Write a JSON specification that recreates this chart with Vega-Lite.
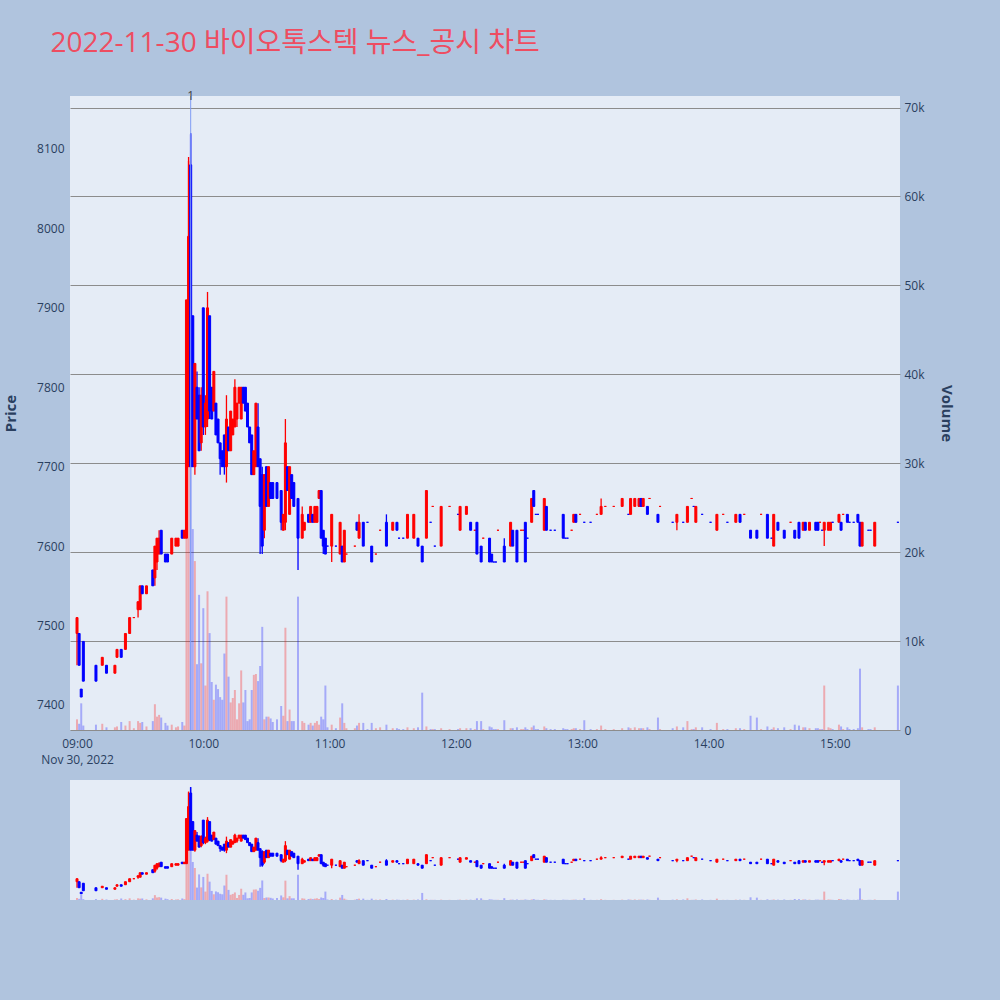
{
"$schema": "https://vega.github.io/schema/vega-lite/v6.json",
"background": "#B0C4DE",
"padding": {"left": 3, "top": 30, "right": 47, "bottom": 100},
"title": {"text": "2022-11-30 바이오톡스텍 뉴스_공시 차트", "anchor": "start", "fontSize": 28, "fontWeight": "normal", "color": "#EE4D61", "font": "'Open Sans', 'Noto Sans CJK KR', sans-serif", "offset": 32, "dx": 47},
"config": {"view": {"fill": "#E5ECF6", "stroke": null}, "font": "Open Sans"},
"spacing": 50,
"bounds": "flush",
"datasets": {
"news": [{"t": "2022-11-30T09:54", "label": "1"}],
"k": [
{"t":"2022-11-30T09:00","o":7490,"h":7510,"l":7450,"c":7510,"v":1200,"d":"u"},
{"t":"2022-11-30T09:01","o":7490,"h":7490,"l":7450,"c":7450,"v":700,"d":"d"},
{"t":"2022-11-30T09:02","o":7420,"h":7420,"l":7410,"c":7410,"v":3000,"d":"d"},
{"t":"2022-11-30T09:03","o":7480,"h":7480,"l":7430,"c":7430,"v":500,"d":"d"},
{"t":"2022-11-30T09:09","o":7450,"h":7450,"l":7430,"c":7430,"v":600,"d":"d"},
{"t":"2022-11-30T09:12","o":7450,"h":7460,"l":7450,"c":7460,"v":700,"d":"u"},
{"t":"2022-11-30T09:14","o":7450,"h":7450,"l":7440,"c":7440,"v":300,"d":"d"},
{"t":"2022-11-30T09:18","o":7440,"h":7450,"l":7440,"c":7450,"v":300,"d":"u"},
{"t":"2022-11-30T09:19","o":7460,"h":7470,"l":7460,"c":7470,"v":400,"d":"u"},
{"t":"2022-11-30T09:21","o":7470,"h":7470,"l":7460,"c":7460,"v":900,"d":"d"},
{"t":"2022-11-30T09:23","o":7470,"h":7490,"l":7470,"c":7490,"v":500,"d":"u"},
{"t":"2022-11-30T09:25","o":7490,"h":7510,"l":7490,"c":7510,"v":1000,"d":"u"},
{"t":"2022-11-30T09:27","o":7510,"h":7510,"l":7510,"c":7510,"v":200,"d":"u"},
{"t":"2022-11-30T09:29","o":7520,"h":7530,"l":7510,"c":7530,"v":1000,"d":"u"},
{"t":"2022-11-30T09:30","o":7520,"h":7550,"l":7520,"c":7550,"v":800,"d":"u"},
{"t":"2022-11-30T09:31","o":7550,"h":7550,"l":7540,"c":7540,"v":900,"d":"d"},
{"t":"2022-11-30T09:33","o":7540,"h":7550,"l":7540,"c":7550,"v":400,"d":"u"},
{"t":"2022-11-30T09:36","o":7570,"h":7570,"l":7550,"c":7550,"v":1000,"d":"d"},
{"t":"2022-11-30T09:37","o":7560,"h":7600,"l":7550,"c":7600,"v":2900,"d":"u"},
{"t":"2022-11-30T09:38","o":7580,"h":7610,"l":7570,"c":7610,"v":1500,"d":"u"},
{"t":"2022-11-30T09:39","o":7590,"h":7620,"l":7590,"c":7610,"v":1700,"d":"u"},
{"t":"2022-11-30T09:40","o":7620,"h":7620,"l":7590,"c":7590,"v":1400,"d":"d"},
{"t":"2022-11-30T09:42","o":7590,"h":7590,"l":7580,"c":7580,"v":800,"d":"d"},
{"t":"2022-11-30T09:43","o":7590,"h":7590,"l":7580,"c":7580,"v":500,"d":"d"},
{"t":"2022-11-30T09:45","o":7590,"h":7610,"l":7590,"c":7610,"v":600,"d":"u"},
{"t":"2022-11-30T09:47","o":7600,"h":7610,"l":7600,"c":7610,"v":300,"d":"u"},
{"t":"2022-11-30T09:48","o":7600,"h":7610,"l":7600,"c":7610,"v":400,"d":"u"},
{"t":"2022-11-30T09:50","o":7620,"h":7620,"l":7610,"c":7610,"v":900,"d":"d"},
{"t":"2022-11-30T09:51","o":7610,"h":7620,"l":7610,"c":7620,"v":500,"d":"u"},
{"t":"2022-11-30T09:52","o":7610,"h":7910,"l":7610,"c":7910,"v":28600,"d":"u"},
{"t":"2022-11-30T09:53","o":7700,"h":8090,"l":7700,"c":7990,"v":64000,"d":"u"},
{"t":"2022-11-30T09:54","o":8080,"h":8120,"l":7700,"c":7700,"v":67000,"d":"d"},
{"t":"2022-11-30T09:55","o":7890,"h":7890,"l":7700,"c":7700,"v":22600,"d":"d"},
{"t":"2022-11-30T09:56","o":7700,"h":7830,"l":7690,"c":7830,"v":19000,"d":"u"},
{"t":"2022-11-30T09:57","o":7800,"h":7820,"l":7760,"c":7760,"v":7400,"d":"d"},
{"t":"2022-11-30T09:58","o":7790,"h":7800,"l":7720,"c":7720,"v":15200,"d":"d"},
{"t":"2022-11-30T09:59","o":7730,"h":7800,"l":7720,"c":7790,"v":7500,"d":"u"},
{"t":"2022-11-30T10:00","o":7900,"h":7900,"l":7740,"c":7750,"v":13700,"d":"d"},
{"t":"2022-11-30T10:01","o":7750,"h":7790,"l":7740,"c":7780,"v":5000,"d":"u"},
{"t":"2022-11-30T10:02","o":7760,"h":7920,"l":7750,"c":7900,"v":15600,"d":"u"},
{"t":"2022-11-30T10:03","o":7890,"h":7890,"l":7760,"c":7770,"v":10900,"d":"d"},
{"t":"2022-11-30T10:04","o":7800,"h":7800,"l":7760,"c":7760,"v":5400,"d":"d"},
{"t":"2022-11-30T10:05","o":7770,"h":7820,"l":7770,"c":7820,"v":3400,"d":"u"},
{"t":"2022-11-30T10:06","o":7780,"h":7780,"l":7740,"c":7740,"v":5100,"d":"d"},
{"t":"2022-11-30T10:07","o":7760,"h":7760,"l":7730,"c":7730,"v":4600,"d":"d"},
{"t":"2022-11-30T10:08","o":7730,"h":7730,"l":7690,"c":7710,"v":3700,"d":"d"},
{"t":"2022-11-30T10:09","o":7720,"h":7720,"l":7700,"c":7700,"v":3400,"d":"d"},
{"t":"2022-11-30T10:10","o":7740,"h":7740,"l":7690,"c":7700,"v":8600,"d":"d"},
{"t":"2022-11-30T10:11","o":7700,"h":7790,"l":7680,"c":7760,"v":15000,"d":"u"},
{"t":"2022-11-30T10:12","o":7750,"h":7750,"l":7720,"c":7720,"v":6000,"d":"d"},
{"t":"2022-11-30T10:13","o":7720,"h":7770,"l":7720,"c":7770,"v":3100,"d":"u"},
{"t":"2022-11-30T10:14","o":7740,"h":7760,"l":7740,"c":7760,"v":3600,"d":"u"},
{"t":"2022-11-30T10:15","o":7750,"h":7810,"l":7750,"c":7800,"v":4500,"d":"u"},
{"t":"2022-11-30T10:16","o":7760,"h":7780,"l":7750,"c":7780,"v":1200,"d":"u"},
{"t":"2022-11-30T10:17","o":7780,"h":7800,"l":7780,"c":7800,"v":3000,"d":"u"},
{"t":"2022-11-30T10:18","o":7760,"h":7800,"l":7760,"c":7800,"v":6700,"d":"u"},
{"t":"2022-11-30T10:19","o":7800,"h":7800,"l":7780,"c":7780,"v":3100,"d":"d"},
{"t":"2022-11-30T10:20","o":7800,"h":7800,"l":7770,"c":7770,"v":4500,"d":"d"},
{"t":"2022-11-30T10:21","o":7780,"h":7780,"l":7750,"c":7750,"v":1000,"d":"d"},
{"t":"2022-11-30T10:22","o":7750,"h":7750,"l":7730,"c":7730,"v":1200,"d":"d"},
{"t":"2022-11-30T10:23","o":7740,"h":7740,"l":7690,"c":7690,"v":4500,"d":"d"},
{"t":"2022-11-30T10:24","o":7690,"h":7720,"l":7690,"c":7720,"v":6200,"d":"u"},
{"t":"2022-11-30T10:25","o":7700,"h":7780,"l":7700,"c":7780,"v":6300,"d":"u"},
{"t":"2022-11-30T10:26","o":7750,"h":7780,"l":7700,"c":7700,"v":5500,"d":"d"},
{"t":"2022-11-30T10:27","o":7710,"h":7710,"l":7590,"c":7650,"v":7200,"d":"d"},
{"t":"2022-11-30T10:28","o":7690,"h":7700,"l":7590,"c":7600,"v":11600,"d":"d"},
{"t":"2022-11-30T10:29","o":7620,"h":7690,"l":7610,"c":7690,"v":1200,"d":"u"},
{"t":"2022-11-30T10:30","o":7700,"h":7700,"l":7650,"c":7650,"v":1500,"d":"d"},
{"t":"2022-11-30T10:31","o":7650,"h":7700,"l":7650,"c":7700,"v":1500,"d":"u"},
{"t":"2022-11-30T10:32","o":7680,"h":7680,"l":7660,"c":7660,"v":1300,"d":"d"},
{"t":"2022-11-30T10:33","o":7680,"h":7680,"l":7660,"c":7660,"v":900,"d":"d"},
{"t":"2022-11-30T10:35","o":7680,"h":7680,"l":7660,"c":7660,"v":1200,"d":"d"},
{"t":"2022-11-30T10:37","o":7670,"h":7670,"l":7620,"c":7630,"v":2700,"d":"d"},
{"t":"2022-11-30T10:38","o":7620,"h":7640,"l":7620,"c":7640,"v":1600,"d":"u"},
{"t":"2022-11-30T10:39","o":7630,"h":7760,"l":7620,"c":7730,"v":11500,"d":"u"},
{"t":"2022-11-30T10:40","o":7700,"h":7700,"l":7670,"c":7670,"v":1000,"d":"d"},
{"t":"2022-11-30T10:41","o":7640,"h":7700,"l":7640,"c":7700,"v":2300,"d":"u"},
{"t":"2022-11-30T10:42","o":7690,"h":7690,"l":7660,"c":7660,"v":1000,"d":"d"},
{"t":"2022-11-30T10:43","o":7680,"h":7680,"l":7650,"c":7650,"v":1000,"d":"d"},
{"t":"2022-11-30T10:45","o":7660,"h":7660,"l":7570,"c":7610,"v":15000,"d":"d"},
{"t":"2022-11-30T10:47","o":7610,"h":7650,"l":7610,"c":7640,"v":1000,"d":"u"},
{"t":"2022-11-30T10:48","o":7620,"h":7630,"l":7620,"c":7630,"v":800,"d":"u"},
{"t":"2022-11-30T10:50","o":7640,"h":7640,"l":7630,"c":7630,"v":600,"d":"d"},
{"t":"2022-11-30T10:51","o":7630,"h":7650,"l":7630,"c":7650,"v":800,"d":"u"},
{"t":"2022-11-30T10:52","o":7640,"h":7640,"l":7630,"c":7630,"v":500,"d":"d"},
{"t":"2022-11-30T10:53","o":7630,"h":7650,"l":7630,"c":7650,"v":800,"d":"u"},
{"t":"2022-11-30T10:54","o":7630,"h":7650,"l":7630,"c":7650,"v":1000,"d":"u"},
{"t":"2022-11-30T10:55","o":7660,"h":7670,"l":7660,"c":7670,"v":600,"d":"u"},
{"t":"2022-11-30T10:56","o":7670,"h":7670,"l":7610,"c":7610,"v":1500,"d":"d"},
{"t":"2022-11-30T10:57","o":7620,"h":7620,"l":7590,"c":7600,"v":1200,"d":"d"},
{"t":"2022-11-30T10:58","o":7610,"h":7610,"l":7590,"c":7590,"v":5000,"d":"d"},
{"t":"2022-11-30T10:59","o":7600,"h":7600,"l":7600,"c":7600,"v":300,"d":"d"},
{"t":"2022-11-30T11:01","o":7600,"h":7640,"l":7580,"c":7640,"v":600,"d":"u"},
{"t":"2022-11-30T11:03","o":7600,"h":7600,"l":7600,"c":7600,"v":200,"d":"d"},
{"t":"2022-11-30T11:05","o":7590,"h":7630,"l":7590,"c":7630,"v":1400,"d":"u"},
{"t":"2022-11-30T11:06","o":7600,"h":7600,"l":7580,"c":7580,"v":3000,"d":"d"},
{"t":"2022-11-30T11:07","o":7580,"h":7620,"l":7580,"c":7620,"v":800,"d":"u"},
{"t":"2022-11-30T11:08","o":7590,"h":7590,"l":7590,"c":7590,"v":200,"d":"u"},
{"t":"2022-11-30T11:12","o":7600,"h":7600,"l":7600,"c":7600,"v":200,"d":"u"},
{"t":"2022-11-30T11:13","o":7630,"h":7630,"l":7620,"c":7620,"v":500,"d":"d"},
{"t":"2022-11-30T11:14","o":7610,"h":7640,"l":7610,"c":7630,"v":800,"d":"u"},
{"t":"2022-11-30T11:16","o":7630,"h":7630,"l":7600,"c":7600,"v":800,"d":"d"},
{"t":"2022-11-30T11:18","o":7630,"h":7630,"l":7630,"c":7630,"v":100,"d":"d"},
{"t":"2022-11-30T11:20","o":7600,"h":7600,"l":7580,"c":7580,"v":800,"d":"d"},
{"t":"2022-11-30T11:22","o":7590,"h":7590,"l":7590,"c":7590,"v":200,"d":"u"},
{"t":"2022-11-30T11:24","o":7620,"h":7620,"l":7620,"c":7620,"v":300,"d":"u"},
{"t":"2022-11-30T11:27","o":7630,"h":7640,"l":7600,"c":7600,"v":600,"d":"d"},
{"t":"2022-11-30T11:30","o":7620,"h":7630,"l":7620,"c":7630,"v":200,"d":"u"},
{"t":"2022-11-30T11:32","o":7630,"h":7630,"l":7620,"c":7620,"v":200,"d":"d"},
{"t":"2022-11-30T11:33","o":7610,"h":7610,"l":7610,"c":7610,"v":100,"d":"d"},
{"t":"2022-11-30T11:35","o":7610,"h":7610,"l":7610,"c":7610,"v":100,"d":"d"},
{"t":"2022-11-30T11:37","o":7610,"h":7640,"l":7610,"c":7640,"v":300,"d":"u"},
{"t":"2022-11-30T11:40","o":7610,"h":7640,"l":7610,"c":7640,"v":200,"d":"u"},
{"t":"2022-11-30T11:42","o":7610,"h":7610,"l":7600,"c":7600,"v":300,"d":"d"},
{"t":"2022-11-30T11:44","o":7600,"h":7600,"l":7580,"c":7580,"v":4200,"d":"d"},
{"t":"2022-11-30T11:46","o":7610,"h":7670,"l":7610,"c":7670,"v":400,"d":"u"},
{"t":"2022-11-30T11:48","o":7630,"h":7630,"l":7630,"c":7630,"v":100,"d":"d"},
{"t":"2022-11-30T11:49","o":7650,"h":7650,"l":7650,"c":7650,"v":100,"d":"u"},
{"t":"2022-11-30T11:50","o":7600,"h":7600,"l":7600,"c":7600,"v":100,"d":"d"},
{"t":"2022-11-30T11:53","o":7600,"h":7650,"l":7600,"c":7650,"v":200,"d":"u"},
{"t":"2022-11-30T11:57","o":7650,"h":7650,"l":7650,"c":7650,"v":100,"d":"u"},
{"t":"2022-11-30T12:01","o":7640,"h":7640,"l":7640,"c":7640,"v":100,"d":"d"},
{"t":"2022-11-30T12:02","o":7620,"h":7650,"l":7620,"c":7650,"v":200,"d":"u"},
{"t":"2022-11-30T12:05","o":7640,"h":7650,"l":7640,"c":7650,"v":200,"d":"u"},
{"t":"2022-11-30T12:07","o":7630,"h":7630,"l":7620,"c":7620,"v":200,"d":"d"},
{"t":"2022-11-30T12:09","o":7620,"h":7620,"l":7620,"c":7620,"v":100,"d":"u"},
{"t":"2022-11-30T12:10","o":7630,"h":7630,"l":7590,"c":7590,"v":1000,"d":"d"},
{"t":"2022-11-30T12:12","o":7600,"h":7600,"l":7580,"c":7580,"v":1000,"d":"d"},
{"t":"2022-11-30T12:13","o":7610,"h":7610,"l":7610,"c":7610,"v":100,"d":"u"},
{"t":"2022-11-30T12:16","o":7610,"h":7610,"l":7580,"c":7580,"v":400,"d":"d"},
{"t":"2022-11-30T12:17","o":7590,"h":7590,"l":7580,"c":7580,"v":300,"d":"d"},
{"t":"2022-11-30T12:18","o":7580,"h":7580,"l":7580,"c":7580,"v":100,"d":"d"},
{"t":"2022-11-30T12:19","o":7580,"h":7580,"l":7580,"c":7580,"v":100,"d":"d"},
{"t":"2022-11-30T12:20","o":7620,"h":7620,"l":7620,"c":7620,"v":100,"d":"u"},
{"t":"2022-11-30T12:23","o":7600,"h":7610,"l":7580,"c":7580,"v":1100,"d":"d"},
{"t":"2022-11-30T12:26","o":7600,"h":7630,"l":7600,"c":7630,"v":200,"d":"u"},
{"t":"2022-11-30T12:27","o":7620,"h":7620,"l":7600,"c":7600,"v":200,"d":"d"},
{"t":"2022-11-30T12:29","o":7620,"h":7620,"l":7580,"c":7580,"v":300,"d":"d"},
{"t":"2022-11-30T12:31","o":7620,"h":7620,"l":7620,"c":7620,"v":100,"d":"u"},
{"t":"2022-11-30T12:32","o":7620,"h":7620,"l":7620,"c":7620,"v":100,"d":"u"},
{"t":"2022-11-30T12:33","o":7630,"h":7630,"l":7580,"c":7580,"v":300,"d":"d"},
{"t":"2022-11-30T12:34","o":7610,"h":7610,"l":7610,"c":7610,"v":100,"d":"d"},
{"t":"2022-11-30T12:36","o":7630,"h":7660,"l":7630,"c":7660,"v":300,"d":"u"},
{"t":"2022-11-30T12:37","o":7670,"h":7670,"l":7650,"c":7650,"v":500,"d":"d"},
{"t":"2022-11-30T12:38","o":7640,"h":7640,"l":7640,"c":7640,"v":100,"d":"d"},
{"t":"2022-11-30T12:39","o":7640,"h":7640,"l":7640,"c":7640,"v":100,"d":"d"},
{"t":"2022-11-30T12:42","o":7620,"h":7660,"l":7620,"c":7660,"v":400,"d":"u"},
{"t":"2022-11-30T12:43","o":7650,"h":7650,"l":7620,"c":7620,"v":200,"d":"d"},
{"t":"2022-11-30T12:45","o":7620,"h":7620,"l":7620,"c":7620,"v":100,"d":"d"},
{"t":"2022-11-30T12:47","o":7620,"h":7620,"l":7620,"c":7620,"v":100,"d":"d"},
{"t":"2022-11-30T12:51","o":7640,"h":7640,"l":7610,"c":7610,"v":200,"d":"d"},
{"t":"2022-11-30T12:52","o":7610,"h":7610,"l":7610,"c":7610,"v":100,"d":"d"},
{"t":"2022-11-30T12:53","o":7610,"h":7610,"l":7610,"c":7610,"v":100,"d":"d"},
{"t":"2022-11-30T12:55","o":7620,"h":7620,"l":7620,"c":7620,"v":100,"d":"u"},
{"t":"2022-11-30T12:56","o":7630,"h":7640,"l":7630,"c":7640,"v":200,"d":"u"},
{"t":"2022-11-30T12:57","o":7640,"h":7640,"l":7630,"c":7630,"v":200,"d":"d"},
{"t":"2022-11-30T12:59","o":7640,"h":7640,"l":7640,"c":7640,"v":100,"d":"u"},
{"t":"2022-11-30T13:01","o":7630,"h":7630,"l":7630,"c":7630,"v":1100,"d":"d"},
{"t":"2022-11-30T13:04","o":7630,"h":7630,"l":7630,"c":7630,"v":100,"d":"d"},
{"t":"2022-11-30T13:07","o":7640,"h":7640,"l":7640,"c":7640,"v":100,"d":"u"},
{"t":"2022-11-30T13:09","o":7640,"h":7660,"l":7640,"c":7650,"v":500,"d":"u"},
{"t":"2022-11-30T13:11","o":7650,"h":7650,"l":7650,"c":7650,"v":100,"d":"u"},
{"t":"2022-11-30T13:15","o":7650,"h":7650,"l":7650,"c":7650,"v":100,"d":"u"},
{"t":"2022-11-30T13:19","o":7650,"h":7660,"l":7650,"c":7660,"v":200,"d":"u"},
{"t":"2022-11-30T13:22","o":7640,"h":7640,"l":7640,"c":7640,"v":300,"d":"d"},
{"t":"2022-11-30T13:23","o":7640,"h":7660,"l":7640,"c":7660,"v":200,"d":"u"},
{"t":"2022-11-30T13:25","o":7650,"h":7660,"l":7650,"c":7660,"v":300,"d":"u"},
{"t":"2022-11-30T13:27","o":7650,"h":7660,"l":7650,"c":7660,"v":200,"d":"u"},
{"t":"2022-11-30T13:28","o":7660,"h":7660,"l":7650,"c":7650,"v":200,"d":"d"},
{"t":"2022-11-30T13:29","o":7650,"h":7660,"l":7650,"c":7660,"v":200,"d":"u"},
{"t":"2022-11-30T13:31","o":7650,"h":7650,"l":7640,"c":7640,"v":300,"d":"d"},
{"t":"2022-11-30T13:32","o":7660,"h":7660,"l":7660,"c":7660,"v":100,"d":"u"},
{"t":"2022-11-30T13:36","o":7640,"h":7640,"l":7630,"c":7630,"v":1400,"d":"d"},
{"t":"2022-11-30T13:37","o":7650,"h":7650,"l":7650,"c":7650,"v":100,"d":"u"},
{"t":"2022-11-30T13:43","o":7630,"h":7630,"l":7630,"c":7630,"v":200,"d":"d"},
{"t":"2022-11-30T13:45","o":7630,"h":7640,"l":7620,"c":7640,"v":400,"d":"u"},
{"t":"2022-11-30T13:48","o":7630,"h":7630,"l":7630,"c":7630,"v":300,"d":"d"},
{"t":"2022-11-30T13:50","o":7630,"h":7650,"l":7630,"c":7650,"v":1000,"d":"u"},
{"t":"2022-11-30T13:52","o":7660,"h":7660,"l":7660,"c":7660,"v":100,"d":"u"},
{"t":"2022-11-30T13:53","o":7650,"h":7650,"l":7650,"c":7650,"v":100,"d":"d"},
{"t":"2022-11-30T13:54","o":7630,"h":7650,"l":7630,"c":7650,"v":300,"d":"u"},
{"t":"2022-11-30T13:57","o":7640,"h":7640,"l":7640,"c":7640,"v":300,"d":"d"},
{"t":"2022-11-30T14:01","o":7630,"h":7630,"l":7630,"c":7630,"v":100,"d":"d"},
{"t":"2022-11-30T14:04","o":7620,"h":7640,"l":7620,"c":7640,"v":800,"d":"u"},
{"t":"2022-11-30T14:07","o":7640,"h":7640,"l":7640,"c":7640,"v":100,"d":"u"},
{"t":"2022-11-30T14:09","o":7630,"h":7630,"l":7630,"c":7630,"v":100,"d":"d"},
{"t":"2022-11-30T14:13","o":7630,"h":7640,"l":7630,"c":7640,"v":200,"d":"u"},
{"t":"2022-11-30T14:15","o":7640,"h":7640,"l":7630,"c":7630,"v":200,"d":"d"},
{"t":"2022-11-30T14:17","o":7640,"h":7640,"l":7640,"c":7640,"v":100,"d":"u"},
{"t":"2022-11-30T14:20","o":7620,"h":7620,"l":7610,"c":7610,"v":1600,"d":"d"},
{"t":"2022-11-30T14:23","o":7620,"h":7620,"l":7610,"c":7610,"v":1400,"d":"d"},
{"t":"2022-11-30T14:25","o":7640,"h":7640,"l":7640,"c":7640,"v":100,"d":"u"},
{"t":"2022-11-30T14:28","o":7640,"h":7640,"l":7610,"c":7610,"v":400,"d":"d"},
{"t":"2022-11-30T14:30","o":7610,"h":7610,"l":7610,"c":7610,"v":100,"d":"d"},
{"t":"2022-11-30T14:31","o":7600,"h":7640,"l":7600,"c":7640,"v":300,"d":"u"},
{"t":"2022-11-30T14:33","o":7630,"h":7630,"l":7620,"c":7620,"v":200,"d":"d"},
{"t":"2022-11-30T14:36","o":7620,"h":7620,"l":7610,"c":7610,"v":300,"d":"d"},
{"t":"2022-11-30T14:39","o":7630,"h":7630,"l":7630,"c":7630,"v":100,"d":"u"},
{"t":"2022-11-30T14:41","o":7620,"h":7620,"l":7610,"c":7610,"v":600,"d":"d"},
{"t":"2022-11-30T14:43","o":7630,"h":7630,"l":7610,"c":7610,"v":500,"d":"d"},
{"t":"2022-11-30T14:45","o":7620,"h":7630,"l":7620,"c":7630,"v":300,"d":"u"},
{"t":"2022-11-30T14:46","o":7630,"h":7630,"l":7620,"c":7620,"v":300,"d":"d"},
{"t":"2022-11-30T14:48","o":7620,"h":7630,"l":7620,"c":7630,"v":200,"d":"u"},
{"t":"2022-11-30T14:51","o":7630,"h":7630,"l":7620,"c":7620,"v":200,"d":"d"},
{"t":"2022-11-30T14:52","o":7630,"h":7630,"l":7620,"c":7620,"v":200,"d":"d"},
{"t":"2022-11-30T14:53","o":7630,"h":7630,"l":7630,"c":7630,"v":100,"d":"u"},
{"t":"2022-11-30T14:54","o":7620,"h":7620,"l":7620,"c":7620,"v":100,"d":"d"},
{"t":"2022-11-30T14:55","o":7620,"h":7630,"l":7600,"c":7630,"v":5000,"d":"u"},
{"t":"2022-11-30T14:57","o":7620,"h":7630,"l":7620,"c":7630,"v":300,"d":"u"},
{"t":"2022-11-30T14:58","o":7620,"h":7630,"l":7620,"c":7630,"v":200,"d":"u"},
{"t":"2022-11-30T14:59","o":7630,"h":7630,"l":7630,"c":7630,"v":100,"d":"d"},
{"t":"2022-11-30T15:02","o":7630,"h":7640,"l":7630,"c":7640,"v":600,"d":"u"},
{"t":"2022-11-30T15:03","o":7630,"h":7630,"l":7620,"c":7620,"v":400,"d":"d"},
{"t":"2022-11-30T15:04","o":7640,"h":7640,"l":7640,"c":7640,"v":100,"d":"u"},
{"t":"2022-11-30T15:06","o":7640,"h":7640,"l":7630,"c":7630,"v":300,"d":"d"},
{"t":"2022-11-30T15:07","o":7630,"h":7630,"l":7630,"c":7630,"v":100,"d":"d"},
{"t":"2022-11-30T15:09","o":7630,"h":7630,"l":7630,"c":7630,"v":100,"d":"d"},
{"t":"2022-11-30T15:11","o":7640,"h":7640,"l":7630,"c":7630,"v":200,"d":"d"},
{"t":"2022-11-30T15:12","o":7630,"h":7630,"l":7600,"c":7600,"v":6900,"d":"d"},
{"t":"2022-11-30T15:13","o":7600,"h":7630,"l":7600,"c":7630,"v":300,"d":"u"},
{"t":"2022-11-30T15:16","o":7620,"h":7620,"l":7620,"c":7620,"v":100,"d":"d"},
{"t":"2022-11-30T15:17","o":7620,"h":7620,"l":7620,"c":7620,"v":100,"d":"d"},
{"t":"2022-11-30T15:19","o":7600,"h":7630,"l":7600,"c":7630,"v":300,"d":"u"},
{"t":"2022-11-30T15:30","o":7630,"h":7630,"l":7630,"c":7630,"v":5000,"d":"d"}
]},
"vconcat": [
{
"width": 830, "height": 634,
"layer": [
 {"data": {"name": "k"},
  "mark": {"type": "bar", "size": 2, "opacity": 0.28},
  "encoding": {
   "x": {"field": "t", "type": "temporal",
     "scale": {"domain": [{"year": 2022, "month": 11, "date": 30, "hours": 8, "minutes": 56, "seconds": 40}, {"year": 2022, "month": 11, "date": 30, "hours": 15, "minutes": 31}], "padding": 0, "nice": false},
     "axis": {"title": null, "grid": false, "ticks": false, "domain": false, "labelColor": "#2a3f5f", "labelFontSize": 12, "labelPadding": 8, "labelLineHeight": 16,
       "values": [{"year": 2022, "month": 11, "date": 30, "hours": 9}, {"year": 2022, "month": 11, "date": 30, "hours": 10}, {"year": 2022, "month": 11, "date": 30, "hours": 11}, {"year": 2022, "month": 11, "date": 30, "hours": 12}, {"year": 2022, "month": 11, "date": 30, "hours": 13}, {"year": 2022, "month": 11, "date": 30, "hours": 14}, {"year": 2022, "month": 11, "date": 30, "hours": 15}],
       "labelExpr": "hours(datum.value) == 9 ? ['09:00', 'Nov 30, 2022'] : timeFormat(datum.value, '%H:%M')"}},
   "y": {"field": "v", "type": "quantitative", "scale": {"domain": [0, 71300], "nice": false},
     "axis": {"orient": "right", "title": "Volume", "titleFontWeight": "bold", "titleFontSize": 15, "titleColor": "#2a3f5f", "titlePadding": 14, "labelColor": "#2a3f5f", "labelFontSize": 12, "labelPadding": 4, "ticks": false, "domain": false, "gridColor": "#8c8c8c", "gridWidth": 1, "values": [0, 10000, 20000, 30000, 40000, 50000, 60000, 70000], "labelExpr": "datum.value == 0 ? '0' : format(datum.value / 1000, 'd') + 'k'"}},
   "color": {"field": "d", "type": "nominal", "scale": {"domain": ["u", "d"], "range": ["#FF0000", "#0000FF"]}, "legend": null}
  }},
 {"data": {"name": "k"},
  "layer": [
   {"mark": {"type": "rule", "strokeWidth": 1.3},
    "encoding": {
     "x": {"field": "t", "type": "temporal"},
     "y": {"field": "l", "type": "quantitative", "scale": {"domain": [7368.5, 8166.7], "nice": false, "zero": false},
       "axis": {"orient": "left", "title": "Price", "titleFontWeight": "bold", "titleFontSize": 15, "titleColor": "#2a3f5f", "titlePadding": 18, "labelColor": "#2a3f5f", "labelFontSize": 12, "labelPadding": 6, "ticks": false, "domain": false, "gridColor": "#ffffff", "gridWidth": 1, "format": "d", "values": [7400, 7500, 7600, 7700, 7800, 7900, 8000, 8100]}},
     "y2": {"field": "h"},
     "color": {"field": "d", "type": "nominal", "legend": null}
    }},
   {"mark": {"type": "bar", "size": 2, "strokeWidth": 1},
    "encoding": {
     "x": {"field": "t", "type": "temporal"},
     "y": {"field": "o", "type": "quantitative"},
     "y2": {"field": "c"},
     "color": {"field": "d", "type": "nominal", "legend": null},
     "stroke": {"field": "d", "type": "nominal", "scale": {"domain": ["u", "d"], "range": ["#FF0000", "#0000FF"]}, "legend": null}
    }}
  ]},
 {"data": {"name": "news"},
  "layer": [
   {"mark": {"type": "rule", "color": "#7f9cf5", "strokeWidth": 1},
    "encoding": {"x": {"field": "t", "type": "temporal"}}},
   {"mark": {"type": "text", "color": "#444444", "fontSize": 12, "baseline": "middle", "align": "center"},
    "encoding": {"x": {"field": "t", "type": "temporal"}, "y": {"value": 0}, "text": {"field": "label"}}}
  ]}
],
"resolve": {"scale": {"y": "independent"}}
},
{
"width": 830, "height": 120,
"layer": [
 {"data": {"name": "k"},
  "mark": {"type": "bar", "size": 2, "opacity": 0.28},
  "encoding": {
   "x": {"field": "t", "type": "temporal", "axis": null,
     "scale": {"domain": [{"year": 2022, "month": 11, "date": 30, "hours": 8, "minutes": 56, "seconds": 40}, {"year": 2022, "month": 11, "date": 30, "hours": 15, "minutes": 31}], "padding": 0, "nice": false}},
   "y": {"field": "v", "type": "quantitative", "scale": {"domain": [0, 71300], "nice": false}, "axis": null},
   "color": {"field": "d", "type": "nominal", "scale": {"domain": ["u", "d"], "range": ["#FF0000", "#0000FF"]}, "legend": null}
  }},
 {"data": {"name": "k"},
  "layer": [
   {"mark": {"type": "rule", "strokeWidth": 1.3},
    "encoding": {
     "x": {"field": "t", "type": "temporal"},
     "y": {"field": "l", "type": "quantitative", "scale": {"domain": [7368.5, 8166.7], "nice": false, "zero": false}, "axis": null},
     "y2": {"field": "h"},
     "color": {"field": "d", "type": "nominal", "legend": null}
    }},
   {"mark": {"type": "bar", "size": 2, "strokeWidth": 1},
    "encoding": {
     "x": {"field": "t", "type": "temporal"},
     "y": {"field": "o", "type": "quantitative"},
     "y2": {"field": "c"},
     "color": {"field": "d", "type": "nominal", "legend": null},
     "stroke": {"field": "d", "type": "nominal", "scale": {"domain": ["u", "d"], "range": ["#FF0000", "#0000FF"]}, "legend": null}
    }}
  ]}
],
"resolve": {"scale": {"y": "independent"}}
}
]
}
